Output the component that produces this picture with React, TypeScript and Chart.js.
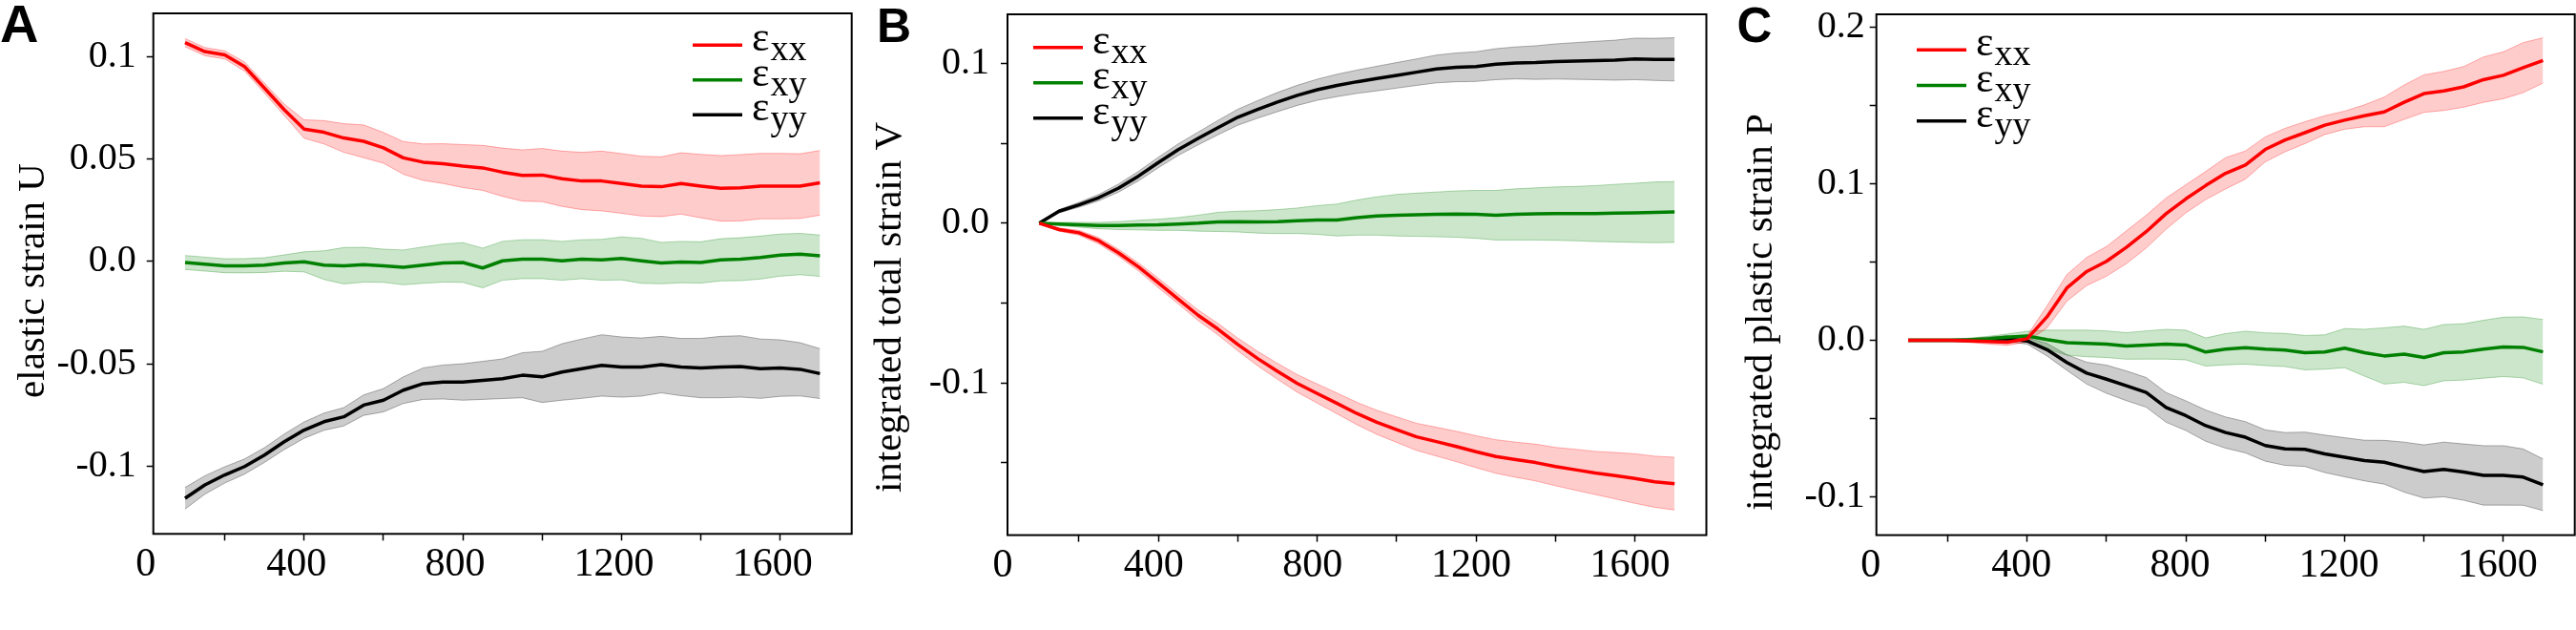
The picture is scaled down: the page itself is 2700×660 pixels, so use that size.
import { useEffect, useRef } from "react"
import { Chart, registerables, type ChartConfiguration, type Plugin } from "chart.js"

Chart.register(...registerables)

// sampled time steps (shared by all three panels)
const steps = [
  100, 150, 200, 250, 300, 350, 400, 450, 500, 550, 600, 650, 700, 750, 800, 850, 900,
  950, 1000, 1050, 1100, 1150, 1200, 1250, 1300, 1350, 1400, 1450, 1500, 1550, 1600, 1650, 1700,
]

// A: elastic strain U (mean and spread)
const elasticXX = [
  0.1069, 0.1025, 0.1009, 0.0952, 0.0847, 0.0741, 0.0647, 0.0631, 0.0603, 0.0587, 0.0555, 0.0506,
  0.0485, 0.0478, 0.0466, 0.0457, 0.0436, 0.042, 0.0422, 0.0404, 0.0393, 0.0393, 0.0381, 0.0368,
  0.0365, 0.0381, 0.0368, 0.0357, 0.036, 0.0368, 0.0368, 0.0368, 0.0384,
]
const elasticXXStd = [
  0.002, 0.002, 0.002, 0.0022, 0.0024, 0.0028, 0.0045, 0.0057, 0.007, 0.008, 0.0075, 0.008, 0.0089,
  0.0097, 0.0105, 0.011, 0.0118, 0.0125, 0.013, 0.0135, 0.014, 0.0146, 0.0146, 0.0146, 0.0146, 0.015,
  0.0155, 0.016, 0.0162, 0.016, 0.016, 0.0158, 0.0158,
]
const elasticXY = [
  -0.0005, -0.0013, -0.0021, -0.0021, -0.0018, -0.0008, -0.0002, -0.0018, -0.0021, -0.0016, -0.0021,
  -0.0029, -0.0018, -0.0008, -0.0005, -0.0032, 0.0003, 0.0011, 0.0011, 0.0003, 0.0011, 0.0008, 0.0015,
  0.0003, -0.0008, -0.0003, -0.0005, 0.0008, 0.0011, 0.0019, 0.0031, 0.0036, 0.0028,
]
const elasticXYStd = [
  0.0034, 0.0034, 0.0034, 0.0035, 0.0036, 0.004, 0.0049, 0.007, 0.0089, 0.0085, 0.0081, 0.0085,
  0.0089, 0.0093, 0.0097, 0.0097, 0.0095, 0.0095, 0.0095, 0.0095, 0.0095, 0.01, 0.0105, 0.011, 0.0101,
  0.0101, 0.0101, 0.0103, 0.0105, 0.0105, 0.0103, 0.0101, 0.0101,
]
const elasticYY = [
  -0.1157, -0.1092, -0.1043, -0.1002, -0.0946, -0.0881, -0.0824, -0.0783, -0.0759, -0.0702, -0.0678,
  -0.0629, -0.0597, -0.0589, -0.0589, -0.0581, -0.0573, -0.0556, -0.0564, -0.054, -0.0524, -0.0508,
  -0.0516, -0.0516, -0.0504, -0.0516, -0.0521, -0.0516, -0.0513, -0.0524, -0.0521, -0.0527, -0.0548,
]
const elasticYYStd = [
  0.0053, 0.0045, 0.004, 0.0037, 0.0036, 0.0038, 0.004, 0.0042, 0.0045, 0.005, 0.0057, 0.0065, 0.0077,
  0.0083, 0.0089, 0.0093, 0.0097, 0.011, 0.0125, 0.0138, 0.0145, 0.015, 0.0147, 0.0142, 0.0138, 0.014,
  0.0145, 0.015, 0.015, 0.0145, 0.0138, 0.013, 0.0122,
]

// B: integrated total strain V
const totalXX = [
  0, -0.004, -0.006, -0.011, -0.0186, -0.0274, -0.0374, -0.0475, -0.0576, -0.0663, -0.0759, -0.0847,
  -0.0927, -0.1003, -0.1066, -0.1128, -0.1191, -0.1246, -0.1292, -0.1337, -0.1367, -0.1397, -0.143,
  -0.146, -0.148, -0.1498, -0.1523, -0.1543, -0.1563, -0.158, -0.1598, -0.1618, -0.163,
]
const totalXXStd = [
  0, 0.001, 0.0015, 0.002, 0.0022, 0.0025, 0.003, 0.003, 0.0033, 0.0036, 0.004, 0.0045, 0.005, 0.0055,
  0.006, 0.0065, 0.007, 0.0075, 0.008, 0.0085, 0.009, 0.0095, 0.01, 0.0105, 0.011, 0.0115, 0.012,
  0.0128, 0.0135, 0.0145, 0.0155, 0.016, 0.0165,
]
const totalXY = [
  0, -0.0005, -0.001, -0.0015, -0.0015, -0.0012, -0.001, -0.0005, 0, 0.0008, 0.001, 0.0008, 0.001,
  0.0015, 0.002, 0.002, 0.0035, 0.0045, 0.005, 0.0053, 0.0055, 0.0057, 0.0055, 0.005, 0.0055, 0.0058,
  0.006, 0.006, 0.006, 0.0063, 0.0065, 0.0068, 0.007,
]
const totalXYStd = [
  0, 0.001, 0.0015, 0.002, 0.0025, 0.003, 0.0035, 0.004, 0.005, 0.006, 0.0065, 0.007, 0.0075, 0.008,
  0.009, 0.01, 0.011, 0.012, 0.013, 0.0135, 0.014, 0.0145, 0.015, 0.0155, 0.016, 0.0163, 0.0167, 0.017,
  0.0175, 0.018, 0.0185, 0.019, 0.019,
]
const totalYY = [
  0, 0.0075, 0.0115, 0.016, 0.022, 0.0295, 0.038, 0.046, 0.053, 0.0598, 0.0663, 0.0712, 0.0758, 0.08,
  0.0835, 0.0862, 0.0885, 0.0905, 0.0925, 0.0945, 0.0965, 0.0975, 0.098, 0.0995, 0.1003, 0.1005,
  0.1012, 0.1015, 0.1018, 0.102, 0.1028, 0.1025, 0.1025,
]
const totalYYStd = [
  0.0005, 0.001, 0.0015, 0.002, 0.0025, 0.003, 0.0033, 0.0036, 0.004, 0.0045, 0.005, 0.0055, 0.006,
  0.0063, 0.0066, 0.007, 0.0073, 0.0077, 0.008, 0.0083, 0.0087, 0.009, 0.0093, 0.0097, 0.01, 0.0105,
  0.011, 0.0115, 0.012, 0.0125, 0.013, 0.0132, 0.0135,
]

// C: integrated plastic strain P
const plasticXX = [
  0, 0, 0, -0.0003, -0.0008, -0.0012, 0.001, 0.015, 0.0335, 0.044, 0.0505, 0.0595, 0.0695, 0.081,
  0.0905, 0.099, 0.1068, 0.1121, 0.1221, 0.1281, 0.1328, 0.1376, 0.1408, 0.1436, 0.1461, 0.1523,
  0.1578, 0.1595, 0.1621, 0.1667, 0.1695, 0.1744, 0.179,
]
const plasticXXStd = [
  0, 0.0003, 0.0005, 0.001, 0.0015, 0.002, 0.002, 0.007, 0.0085, 0.009, 0.0095, 0.0105, 0.0105, 0.01,
  0.009, 0.009, 0.01, 0.009, 0.008, 0.0075, 0.007, 0.006, 0.0058, 0.007, 0.0095, 0.011, 0.012, 0.0125,
  0.013, 0.0145, 0.015, 0.016, 0.0145,
]
const plasticXY = [
  0, 0, 0, 0.0003, 0.001, 0.002, 0.0028, 0.0005, -0.0015, -0.002, -0.0025, -0.0036, -0.003, -0.0025,
  -0.003, -0.0075, -0.0057, -0.0047, -0.0057, -0.0062, -0.0079, -0.0075, -0.005, -0.0079, -0.01,
  -0.0089, -0.011, -0.0079, -0.0074, -0.0057, -0.0042, -0.0045, -0.0074,
]
const plasticXYStd = [
  0, 0.0003, 0.0005, 0.001, 0.0015, 0.002, 0.003, 0.006, 0.008, 0.0085, 0.0085, 0.0085, 0.009, 0.0095,
  0.0095, 0.009, 0.01, 0.0105, 0.0105, 0.0106, 0.011, 0.011, 0.0125, 0.015, 0.018, 0.018, 0.018, 0.018,
  0.018, 0.0185, 0.019, 0.0195, 0.0207,
]
const plasticYY = [
  0, 0, 0, 0, 0.0005, 0.001, -0.0004, -0.006, -0.0142, -0.021, -0.0249, -0.0291, -0.0333, -0.0429,
  -0.0482, -0.0546, -0.059, -0.062, -0.0673, -0.0695, -0.0697, -0.0726, -0.0748, -0.0769, -0.078,
  -0.0811, -0.0839, -0.0826, -0.0843, -0.0864, -0.0864, -0.0875, -0.0924,
]
const plasticYYStd = [
  0, 0.0003, 0.0005, 0.001, 0.0015, 0.002, 0.002, 0.004, 0.005, 0.007, 0.009, 0.0095, 0.0095, 0.0095,
  0.0095, 0.01, 0.01, 0.01, 0.01, 0.0105, 0.011, 0.012, 0.0125, 0.013, 0.014, 0.016, 0.017, 0.0175,
  0.018, 0.019, 0.019, 0.018, 0.0165,
]

// axis ticks
const xTickValues = [20, 200, 400, 600, 800, 1000, 1200, 1400, 1600]
const xTickLabels = ["0", "", "400", "", "800", "", "1200", "", "1600"]

const elasticTicks = [-0.1, -0.05, 0, 0.05, 0.1]
const elasticTickLabels = ["-0.1", "-0.05", "0.0", "0.05", "0.1"]
const totalTicks = [-0.15, -0.1, -0.05, 0, 0.05, 0.1]
const totalTickLabels = ["", "-0.1", "", "0.0", "", "0.1"]
const plasticTicks = [-0.1, -0.05, 0, 0.05, 0.1, 0.15, 0.2]
const plasticTickLabels = ["-0.1", "", "0.0", "", "0.1", "", "0.2"]

const components = ["xx", "xy", "yy"]
const lineColors = ["#ff0000", "#008000", "#000000"]
const bandFills = ["rgba(255,0,0,0.2)", "rgba(0,128,0,0.2)", "rgba(0,0,0,0.2)"]
const bandEdges = ["rgba(255,0,0,0.3)", "rgba(0,128,0,0.3)", "rgba(0,0,0,0.3)"]

const SERIF = '"Liberation Serif", "Times New Roman", serif'

type PanelSpec = {
  letter: string
  letterSize: number
  letterX: number
  yTitle: string
  titleX: number
  titleY: number
  yMin: number
  yMax: number
  yTicks: number[]
  yTickLabels: string[]
  yPad: number
  xLabelOffset: number
  means: number[][]
  stds: number[][]
  left: number
  width: number
  axisWidth: number
  top: number
  axisHeight: number
  rightPad: number
  legendX: number
  legendY: number
  legendGap: number
}

const panels: PanelSpec[] = [
  {
    letter: "A",
    letterSize: 56,
    letterX: 0,
    yTitle: "elastic strain U",
    titleX: 46,
    titleY: 294,
    yMin: -0.1331,
    yMax: 0.1212,
    yTicks: elasticTicks,
    yTickLabels: elasticTickLabels,
    yPad: 11,
    xLabelOffset: -8,
    means: [elasticXX, elasticXY, elasticYY],
    stds: [elasticXXStd, elasticXYStd, elasticYYStd],
    left: 0,
    width: 896,
    axisWidth: 160.7,
    top: 14,
    axisHeight: 100.7,
    rightPad: 3.3,
    legendX: 726,
    legendY: 47.3,
    legendGap: 36.5,
  },
  {
    letter: "B",
    letterSize: 50,
    letterX: 19,
    yTitle: "integrated total strain V",
    titleX: 44,
    titleY: 322,
    yMin: -0.1952,
    yMax: 0.1307,
    yTicks: totalTicks,
    yTickLabels: totalTickLabels,
    yPad: 12,
    xLabelOffset: -5,
    means: [totalXX, totalXY, totalYY],
    stds: [totalXXStd, totalXYStd, totalYYStd],
    left: 900,
    width: 896,
    axisWidth: 156,
    top: 15,
    axisHeight: 99.4,
    rightPad: 7.5,
    legendX: 183,
    legendY: 49.7,
    legendGap: 37,
  },
  {
    letter: "C",
    letterSize: 51,
    letterX: 20.5,
    yTitle: "integrated plastic strain P",
    titleX: 56.5,
    titleY: 327,
    yMin: -0.1246,
    yMax: 0.2085,
    yTicks: plasticTicks,
    yTickLabels: plasticTickLabels,
    yPad: 5,
    xLabelOffset: -6,
    means: [plasticXX, plasticXY, plasticYY],
    stds: [plasticXXStd, plasticXYStd, plasticYYStd],
    left: 1800,
    width: 900,
    axisWidth: 166.7,
    top: 15,
    axisHeight: 99.4,
    rightPad: 1.3,
    legendX: 209,
    legendY: 52.3,
    legendGap: 37.2,
  },
]

function decorPlugin(p: PanelSpec): Plugin<"line"> {
  return {
    id: "decor",
    afterDatasetsDraw(chart) {
      const { ctx, chartArea } = chart
      ctx.save()
      ctx.strokeStyle = "#000"
      ctx.lineWidth = 2
      ctx.strokeRect(chartArea.left, chartArea.top, chartArea.right - chartArea.left, chartArea.bottom - chartArea.top)
      ctx.restore()
    },
    afterDraw(chart) {
      const ctx = chart.ctx
      ctx.save()
      ctx.fillStyle = "#000"
      ctx.textAlign = "left"
      ctx.textBaseline = "alphabetic"

      // panel letter
      ctx.font = `bold ${p.letterSize}px "Liberation Sans", Arial, sans-serif`
      ctx.fillText(p.letter, p.letterX, 43.5)

      // y axis title (rotated)
      ctx.save()
      ctx.translate(p.titleX, p.titleY)
      ctx.rotate(-Math.PI / 2)
      ctx.font = `41px ${SERIF}`
      ctx.textAlign = "center"
      ctx.fillText(p.yTitle, 0, 0)
      ctx.restore()

      // legend
      components.forEach((c, i) => {
        const y = p.legendY + i * p.legendGap
        ctx.strokeStyle = lineColors[i]
        ctx.lineWidth = 3.5
        ctx.beginPath()
        ctx.moveTo(p.legendX, y)
        ctx.lineTo(p.legendX + 52, y)
        ctx.stroke()
        const ex = p.legendX + 62
        ctx.font = `44px ${SERIF}`
        ctx.fillText("ε", ex, y + 6)
        const w = ctx.measureText("ε").width
        ctx.font = `38px ${SERIF}`
        ctx.fillText(c, ex + w + 1, y + 16)
      })
      ctx.restore()
    },
  }
}

function buildConfig(p: PanelSpec): ChartConfiguration<"line"> {
  const datasets: any[] = []
  p.means.forEach((mean, i) => {
    const std = p.stds[i]
    const base = datasets.length
    datasets.push({
      data: steps.map((x, k) => ({ x, y: mean[k] - std[k] })),
      borderColor: bandEdges[i],
      borderWidth: 1,
      pointRadius: 0,
      fill: false,
      order: 1,
    })
    datasets.push({
      data: steps.map((x, k) => ({ x, y: mean[k] + std[k] })),
      borderColor: bandEdges[i],
      backgroundColor: bandFills[i],
      borderWidth: 1,
      pointRadius: 0,
      fill: base,
      order: 1,
    })
    datasets.push({
      data: steps.map((x, k) => ({ x, y: mean[k] })),
      borderColor: lineColors[i],
      borderWidth: 3.5,
      borderJoinStyle: "round",
      pointRadius: 0,
      fill: false,
      order: 0,
    })
  })

  return {
    type: "line",
    data: { datasets },
    options: {
      animation: false,
      responsive: false,
      events: [],
      layout: {
        autoPadding: false,
        padding: { top: p.top, left: 0, right: p.rightPad, bottom: 0 },
      },
      plugins: {
        legend: { display: false },
        tooltip: { enabled: false },
      },
      scales: {
        x: {
          type: "linear",
          min: 20,
          max: 1780,
          afterBuildTicks: (scale) => {
            scale.ticks = xTickValues.map((value) => ({ value }))
          },
          afterFit: (scale) => {
            scale.height = p.axisHeight
            scale.paddingLeft = 0
            scale.paddingRight = 0
          },
          border: { display: false },
          grid: {
            drawOnChartArea: false,
            drawTicks: true,
            tickLength: 7,
            tickWidth: 1.5,
            tickColor: (ctx: any) => (ctx.tick && ctx.tick.value === 20 ? "rgba(0,0,0,0)" : "#000"),
          },
          ticks: {
            autoSkip: false,
            maxRotation: 0,
            padding: 0,
            labelOffset: p.xLabelOffset,
            color: "#000",
            font: { family: SERIF, size: 42 },
            callback: (_v, index) => xTickLabels[index],
          },
        },
        y: {
          type: "linear",
          min: p.yMin,
          max: p.yMax,
          afterBuildTicks: (scale) => {
            scale.ticks = p.yTicks.map((value) => ({ value }))
          },
          afterFit: (scale) => {
            scale.width = p.axisWidth
            scale.paddingTop = 0
            scale.paddingBottom = 0
          },
          border: { display: false },
          grid: {
            drawOnChartArea: false,
            drawTicks: true,
            tickLength: 7,
            tickWidth: 1.5,
            tickColor: "#000",
          },
          ticks: {
            autoSkip: false,
            padding: p.yPad,
            color: "#000",
            font: { family: SERIF, size: 40 },
            callback: (_v, index) => p.yTickLabels[index],
          },
        },
      },
    },
    plugins: [decorPlugin(p)],
  }
}

function Panel({ spec }: { spec: PanelSpec }) {
  const canvasRef = useRef<HTMLCanvasElement>(null)

  useEffect(() => {
    if (!canvasRef.current) return
    const chart = new Chart(canvasRef.current, buildConfig(spec))
    return () => chart.destroy()
  }, [spec])

  return (
    <canvas
      ref={canvasRef}
      width={spec.width}
      height={660}
      style={{ position: "absolute", left: spec.left, top: 0, width: spec.width, height: 660 }}
    />
  )
}

export default function App() {
  return (
    <div style={{ position: "absolute", left: 0, top: 0, width: 2700, height: 660, background: "#fff" }}>
      {panels.map((p) => (
        <Panel key={p.letter} spec={p} />
      ))}
    </div>
  )
}
